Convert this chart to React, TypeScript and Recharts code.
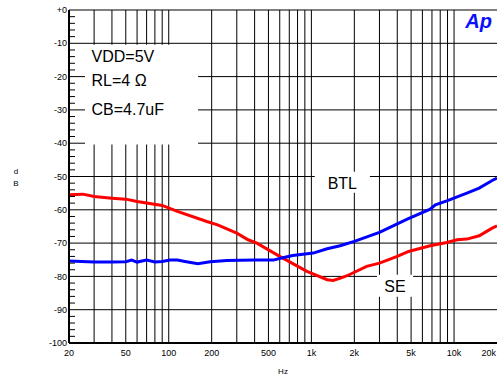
import React from 'react';
import { LineChart, Line, XAxis, YAxis, CartesianGrid, ReferenceArea } from 'recharts';

const seFreq = [20, 25, 30, 40, 50, 60, 90, 115, 185, 220, 300, 360, 415, 600, 930, 1290, 1420, 1600, 1780, 2440, 3000, 4000, 4800, 6800, 8900, 10500, 12300, 15000, 18500, 20000];
const seDb = [-55.5, -55.3, -56.0, -56.5, -56.8, -57.5, -58.7, -60.5, -63.5, -64.5, -67, -69, -70, -74, -78.5, -81, -81.2, -80.5, -79.8, -77, -76, -74, -72.5, -70.8, -69.8, -69, -68.8, -67.8, -65.5, -64.8];

const btlFreq = [20, 30, 40, 50, 55, 60, 70, 80, 90, 102, 115, 130, 160, 195, 256, 400, 540, 630, 740, 1030, 1290, 1590, 2000, 3000, 4700, 6800, 7400, 8900, 12300, 15000, 18500, 20000];
const btlDb = [-75.4, -75.7, -75.7, -75.6, -75.1, -75.7, -75.1, -75.7, -75.5, -75.1, -75.1, -75.5, -76.2, -75.6, -75.2, -75.1, -75.1, -74.4, -73.7, -73, -71.7, -70.8, -69.5, -66.8, -62.8, -59.8, -58.5, -57.3, -55, -53.5, -51.2, -50.5];

const xTicks = [20, 50, 100, 200, 500, 1000, 2000, 5000, 10000, 20000];
const xTickLabels = ['20', '50', '100', '200', '500', '1k', '2k', '5k', '10k', '20k'];
const xGrid = [30, 40, 50, 60, 70, 80, 90, 100, 200, 300, 400, 500, 600, 700, 800, 900, 1000, 2000, 3000, 4000, 5000, 6000, 7000, 8000, 9000, 10000];
const yGrid = [0, -10, -20, -30, -40, -50, -60, -70, -80, -90];
const yTicks = [0, -2, -4, -6, -8, -10, -12, -14, -16, -18, -20, -22, -24, -26, -28, -30, -32, -34, -36, -38, -40, -42, -44, -46, -48, -50, -52, -54, -56, -58, -60, -62, -64, -66, -68, -70, -72, -74, -76, -78, -80, -82, -84, -86, -88, -90, -92, -94, -96, -98, -100];
const boxLines = ['VDD=5V', 'RL=4 \u03A9', 'CB=4.7uF'];

const seData = seFreq.map((f, i) => ({ f, db: seDb[i] }));
const btlData = btlFreq.map((f, i) => ({ f, db: btlDb[i] }));

const applyScale = (s: any, v: number): number => {
  if (!s) return NaN;
  if (typeof s === 'function') return s(v);
  if (typeof s.map === 'function') return s.map(v);
  if (typeof s.apply === 'function') return s.apply(v);
  return NaN;
};

const vGen = (args: any) => {
  const xa = args && args.xAxis;
  if (!xa || !xa.scale) return [];
  return xGrid.map((v) => applyScale(xa.scale, v)).filter((p) => Number.isFinite(p));
};

const hGen = (args: any) => {
  const ya = args && args.yAxis;
  if (!ya || !ya.scale) return [];
  return yGrid.map((v) => applyScale(ya.scale, v)).filter((p) => Number.isFinite(p));
};

const YTick = (props: any) => {
  const { x, y, payload } = props;
  const v = payload.value as number;
  const major = v % 10 === 0;
  return (
    <g>
      {!major && <line x1={x + 2} x2={x + 8} y1={y} y2={y} stroke="#000" strokeWidth={1} />}
      {major && (
        <text x={x} y={y} dy="0.35em" textAnchor="end" fontSize={9} fill="#000">
          {v === 0 ? '+0' : String(v)}
        </text>
      )}
    </g>
  );
};

const XTick = (props: any) => {
  const { x, y, payload } = props;
  const v = payload.value as number;
  const idx = xTicks.indexOf(v);
  const last = v === 20000;
  return (
    <text x={last ? x - 1 : x} y={y} dy="0.71em" textAnchor={last ? 'end' : 'middle'} fontSize={9} fill="#000">
      {xTickLabels[idx]}
    </text>
  );
};

const BoxLabel = (props: any) => {
  const vb = props.viewBox || {};
  const offs = [11.5, 36, 64.5];
  return (
    <g>
      {boxLines.map((t, i) => (
        <text key={t} x={vb.x + 6.5} y={vb.y + offs[i]} dy="0.35em" fontSize={16} fill="#000">
          {t}
        </text>
      ))}
    </g>
  );
};

const centerLabel = (txt: string) => (props: any) => {
  const vb = props.viewBox || {};
  return (
    <text x={vb.x + vb.width / 2} y={vb.y + vb.height / 2 + 1} dy="0.35em" textAnchor="middle" fontSize={16} fill="#000">
      {txt}
    </text>
  );
};

export default function App() {
  return (
    <div style={{ position: 'absolute', left: 0, top: 0, width: 497, height: 378, background: '#fff', fontFamily: '"Liberation Sans", Arial, sans-serif' }}>
      <LineChart width={497} height={378} margin={{ top: 10, right: 0, bottom: 0, left: 0 }}>
        <CartesianGrid stroke="#000" strokeWidth={1} verticalCoordinatesGenerator={vGen} horizontalCoordinatesGenerator={hGen} />
        <XAxis
          dataKey="f"
          type="number"
          scale="log"
          domain={[20, 20000]}
          ticks={xTicks}
          interval={0}
          allowDataOverflow
          height={35}
          tickSize={0}
          tickMargin={7}
          tick={<XTick />}
          axisLine={{ stroke: '#000', strokeWidth: 2 }}
          tickLine={false}
          label={{ value: 'Hz', position: 'insideBottom', offset: 4, fontSize: 8, fill: '#000' }}
        />
        <YAxis
          type="number"
          domain={[-100, 0]}
          ticks={yTicks}
          interval={0}
          width={69}
          tickSize={0}
          tickMargin={2}
          tick={<YTick />}
          axisLine={{ stroke: '#000', strokeWidth: 2 }}
          tickLine={false}
        />
        <ReferenceArea x1={25.9} x2={160.6} y1={-40.4} y2={-10.4} fill="#fff" fillOpacity={1} stroke="none" label={BoxLabel} />
        <ReferenceArea x1={1056} x2={2572} y1={-54.9} y2={-48.6} fill="#fff" fillOpacity={1} stroke="none" label={centerLabel('BTL')} />
        <ReferenceArea x1={2884} x2={5160} y1={-86.1} y2={-79.5} fill="#fff" fillOpacity={1} stroke="none" label={centerLabel('SE')} />
        <Line data={seData} dataKey="db" type="linear" stroke="#ff0000" strokeWidth={3} dot={false} isAnimationActive={false} />
        <Line data={btlData} dataKey="db" type="linear" stroke="#0000ff" strokeWidth={3} dot={false} isAnimationActive={false} />
      </LineChart>
      <svg width={497} height={378} style={{ position: 'absolute', left: 0, top: 0, pointerEvents: 'none' }}>
        <text x={16} y={171} dy="0.35em" textAnchor="middle" fontSize={8} fill="#000">d</text>
        <text x={16} y={183} dy="0.35em" textAnchor="middle" fontSize={8} fill="#000">B</text>
        <text x={492} y={27.5} textAnchor="end" fontSize={20} fontWeight="bold" fontStyle="italic" fill="#0a10ff">Ap</text>
      </svg>
    </div>
  );
}
